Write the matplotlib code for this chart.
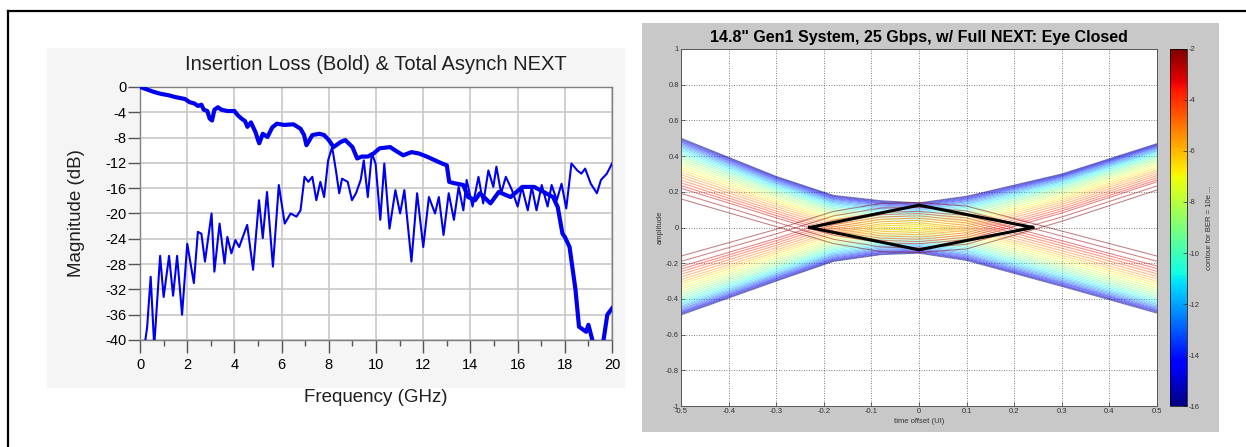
import numpy as np
import matplotlib
matplotlib.use("Agg")
import matplotlib.pyplot as plt
from matplotlib.patches import Rectangle
from matplotlib.lines import Line2D

plt.rcParams['font.family'] = ['Liberation Sans', 'DejaVu Sans']
plt.rcParams['axes.unicode_minus'] = False

# ---- left chart data ----
il_freq = [0, 0.3, 0.6, 0.9, 1.2, 1.5, 1.9, 2.1, 2.3, 2.45, 2.6, 2.7, 2.85, 2.95, 3.05, 3.15, 3.3, 3.45,
           3.7, 4.0, 4.15, 4.3, 4.45, 4.55, 4.7, 4.9, 5.0, 5.05, 5.2, 5.4, 5.6, 5.8, 6.1, 6.5, 6.8,
           6.95, 7.05, 7.15, 7.3, 7.6, 7.8, 8.0, 8.2, 8.5, 8.7, 9.0, 9.2, 9.4, 9.65, 9.9, 10.15,
           10.6, 10.8, 11.15, 11.5, 11.8, 12.15, 12.5, 12.8, 13.0, 13.1, 13.3, 13.7, 13.9, 14.2,
           14.4, 14.85, 15.2, 15.7, 16.2, 16.7, 17.2, 17.5, 17.7, 17.9, 18.0, 18.2, 18.45, 18.6,
           18.9, 19.0, 19.2, 19.3, 19.6, 19.8, 20.0]
il_db = [0, -0.4, -0.8, -1.1, -1.3, -1.6, -1.9, -2.4, -2.6, -3.0, -2.8, -3.6, -3.8, -5.0, -5.3,
         -3.6, -3.2, -3.6, -3.8, -3.8, -4.5, -5.0, -5.4, -6.3, -5.6, -7.2, -8.4, -8.9, -7.4, -7.9,
         -6.4, -5.8, -6.0, -5.9, -6.6, -7.6, -9.2, -8.6, -7.6, -7.4, -7.6, -8.4, -9.5, -8.7, -8.4,
         -9.5, -11.3, -11.0, -11.0, -10.5, -9.7, -9.5, -10.0, -10.8, -10.3, -10.5, -11.0, -11.6,
         -12.1, -12.4, -15.0, -15.2, -15.5, -17.4, -17.9, -16.8, -18.4, -16.6, -17.4, -15.8, -15.8,
         -16.8, -17.4, -19.0, -23.2, -23.7, -25.3, -32.0, -37.9, -38.7, -37.6, -40.5, -42.0, -41.0,
         -36.0, -35.0]

next_freq = [0.15, 0.3, 0.45, 0.6, 0.85, 1.0, 1.23, 1.4, 1.57, 1.78, 2.0, 2.28, 2.45, 2.6, 2.75,
             3.03, 3.15, 3.37, 3.58, 3.7, 3.87, 4.04, 4.2, 4.54, 4.79, 5.04, 5.2, 5.38, 5.63, 5.88,
             6.13, 6.38, 6.63, 6.8, 6.97, 7.13, 7.3, 7.47, 7.64, 7.8, 7.97, 8.14, 8.3, 8.44, 8.56,
             8.8, 8.98, 9.15, 9.35, 9.48, 9.65, 9.82, 9.98, 10.18, 10.35, 10.57, 10.82, 11.02, 11.2,
             11.5, 11.74, 12.0, 12.24, 12.5, 12.66, 12.86, 13.08, 13.3, 13.5, 13.7, 13.84, 14.09,
             14.34, 14.54, 14.76, 14.97, 15.1, 15.3, 15.5, 15.76, 16.0, 16.18, 16.43, 16.6, 16.8,
             17.02, 17.27, 17.44, 17.66, 17.86, 18.06, 18.28, 18.53, 18.7, 18.86, 19.1, 19.36,
             19.53, 19.78, 20.0]
next_db = [-42, -38, -30, -41, -26.7, -33.2, -26.7, -33.0, -26.7, -36.0, -24.8, -31.0, -22.9, -23.2,
           -27.6, -20.0, -29.2, -21.6, -27.9, -23.7, -26.3, -24.2, -25.3, -21.8, -28.9, -17.9, -23.9,
           -16.6, -28.4, -15.5, -21.6, -20.0, -20.5, -19.5, -14.2, -15.0, -14.2, -17.9, -15.0, -17.4,
           -11.6, -9.5, -13.2, -16.8, -14.5, -15.0, -17.9, -16.8, -14.7, -11.6, -17.4, -10.5, -12.1,
           -21.0, -12.1, -22.4, -16.3, -20.0, -16.3, -27.6, -16.8, -25.3, -17.4, -20.0, -17.4, -23.4,
           -16.8, -21.0, -15.8, -19.5, -14.7, -18.9, -14.2, -18.4, -13.2, -15.8, -12.6, -16.8, -14.2,
           -16.3, -18.9, -15.8, -19.5, -15.8, -19.5, -15.5, -18.9, -15.5, -17.9, -15.3, -19.2, -12.1,
           -13.2, -13.7, -12.9, -15.3, -16.8, -14.7, -13.7, -12.1]

# ---- right chart data: BER contour levels (log10), upper / lower boundary per level ----
eye_x = [-0.5, -0.3, -0.18, -0.08, 0.0, 0.1, 0.3, 0.5]
ber_levels = [-16, -15.5, -15, -14.5, -14, -13.5, -13, -12.5, -12, -11.5, -11, -10.5, -10, -9.5,
              -9, -8.5, -8, -7.5, -7, -6.5, -6, -5.5, -5, -4.5, -4, -3.5, -3, -2.5, -2]
eye_upper = [
    [0.500, 0.286, 0.180, 0.150, 0.138, 0.175, 0.300, 0.470],
    [0.495, 0.282, 0.176, 0.146, 0.134, 0.171, 0.296, 0.466],
    [0.490, 0.278, 0.172, 0.141, 0.130, 0.166, 0.292, 0.462],
    [0.484, 0.273, 0.167, 0.137, 0.125, 0.161, 0.288, 0.458],
    [0.478, 0.268, 0.162, 0.132, 0.120, 0.156, 0.283, 0.453],
    [0.471, 0.262, 0.157, 0.126, 0.114, 0.150, 0.278, 0.448],
    [0.464, 0.256, 0.151, 0.120, 0.109, 0.144, 0.272, 0.442],
    [0.456, 0.250, 0.145, 0.113, 0.102, 0.137, 0.266, 0.436],
    [0.448, 0.243, 0.139, 0.106, 0.096, 0.130, 0.260, 0.430],
    [0.439, 0.236, 0.132, 0.099, 0.088, 0.122, 0.253, 0.424],
    [0.430, 0.228, 0.124, 0.091, 0.081, 0.114, 0.245, 0.416],
    [0.420, 0.220, 0.117, 0.083, 0.073, 0.106, 0.238, 0.409],
    [0.410, 0.212, 0.108, 0.075, 0.064, 0.097, 0.230, 0.401],
    [0.399, 0.203, 0.100, 0.065, 0.055, 0.087, 0.221, 0.393],
    [0.388, 0.193, 0.091, 0.056, 0.046, 0.078, 0.213, 0.384],
    [0.376, 0.183, 0.081, 0.046, 0.037, 0.067, 0.203, 0.375],
    [0.364, 0.174, 0.072, 0.036, 0.027, 0.057, 0.194, 0.366],
    [0.350, 0.162, 0.061, 0.025, 0.016, 0.045, 0.183, 0.356],
    [0.337, 0.151, 0.050, 0.013, 0.005, 0.033, 0.173, 0.345],
    [0.323, 0.140, 0.040, 0.002, -0.007, 0.022, 0.162, 0.335],
    [0.310, 0.129, 0.029, -0.010, -0.018, 0.010, 0.152, 0.324],
    [0.296, 0.117, 0.018, -0.021, -0.029, -0.002, 0.141, 0.314],
    [0.281, 0.105, 0.006, -0.034, -0.041, -0.015, 0.129, 0.302],
    [0.265, 0.092, -0.006, -0.047, -0.054, -0.029, 0.117, 0.291],
    [0.250, 0.080, -0.019, -0.060, -0.066, -0.042, 0.105, 0.279],
    [0.235, 0.067, -0.031, -0.072, -0.079, -0.055, 0.093, 0.267],
    [0.220, 0.054, -0.043, -0.085, -0.091, -0.068, 0.081, 0.256],
    [0.191, 0.030, -0.066, -0.109, -0.115, -0.094, 0.059, 0.233],
    [0.160, 0.005, -0.090, -0.135, -0.140, -0.120, 0.035, 0.210],
]
eye_lower = [
    [-0.490, -0.300, -0.190, -0.152, -0.144, -0.185, -0.330, -0.480],
    [-0.485, -0.296, -0.186, -0.148, -0.140, -0.180, -0.325, -0.475],
    [-0.480, -0.291, -0.182, -0.143, -0.135, -0.176, -0.321, -0.470],
    [-0.475, -0.286, -0.177, -0.139, -0.131, -0.171, -0.315, -0.465],
    [-0.469, -0.281, -0.172, -0.133, -0.126, -0.165, -0.310, -0.459],
    [-0.462, -0.275, -0.166, -0.128, -0.120, -0.159, -0.304, -0.453],
    [-0.455, -0.269, -0.160, -0.122, -0.114, -0.153, -0.297, -0.446],
    [-0.447, -0.263, -0.154, -0.115, -0.107, -0.146, -0.290, -0.439],
    [-0.440, -0.256, -0.147, -0.108, -0.101, -0.138, -0.283, -0.431],
    [-0.431, -0.248, -0.140, -0.101, -0.093, -0.130, -0.275, -0.423],
    [-0.422, -0.240, -0.132, -0.093, -0.086, -0.122, -0.266, -0.414],
    [-0.412, -0.232, -0.124, -0.085, -0.077, -0.113, -0.257, -0.405],
    [-0.403, -0.223, -0.116, -0.076, -0.069, -0.104, -0.248, -0.395],
    [-0.392, -0.214, -0.107, -0.067, -0.060, -0.094, -0.238, -0.385],
    [-0.381, -0.204, -0.098, -0.057, -0.050, -0.084, -0.228, -0.374],
    [-0.370, -0.194, -0.088, -0.047, -0.040, -0.074, -0.217, -0.363],
    [-0.358, -0.184, -0.078, -0.037, -0.030, -0.063, -0.206, -0.352],
    [-0.345, -0.172, -0.067, -0.026, -0.019, -0.051, -0.194, -0.339],
    [-0.332, -0.161, -0.056, -0.014, -0.008, -0.039, -0.181, -0.326],
    [-0.318, -0.149, -0.044, -0.003, 0.004, -0.026, -0.169, -0.314],
    [-0.305, -0.138, -0.033, 0.009, 0.015, -0.014, -0.156, -0.301],
    [-0.292, -0.126, -0.022, 0.020, 0.026, -0.002, -0.144, -0.288],
    [-0.277, -0.113, -0.009, 0.033, 0.039, 0.012, -0.130, -0.274],
    [-0.262, -0.100, 0.003, 0.046, 0.052, 0.026, -0.116, -0.259],
    [-0.247, -0.087, 0.016, 0.059, 0.065, 0.039, -0.102, -0.245],
    [-0.233, -0.074, 0.028, 0.072, 0.078, 0.053, -0.088, -0.230],
    [-0.218, -0.061, 0.041, 0.085, 0.090, 0.067, -0.074, -0.216],
    [-0.190, -0.036, 0.065, 0.109, 0.114, 0.093, -0.048, -0.189],
    [-0.160, -0.010, 0.090, 0.135, 0.140, 0.120, -0.020, -0.160],
]
mask_x = [-0.23, 0.0, 0.24, 0.0, -0.23]
mask_y = [0.0, 0.125, 0.0, -0.125, 0.0]

fig = plt.figure(figsize=(12.46, 4.47), dpi=100)

# backgrounds and page frame
fig.patches.append(Rectangle((0.0377, 0.132), 0.464, 0.761, transform=fig.transFigure,
                             facecolor='#f5f5f5', edgecolor='none', zorder=-2))
fig.patches.append(Rectangle((0.5152, 0.0336), 0.4631, 0.915, transform=fig.transFigure,
                             facecolor='#c8c8c8', edgecolor='none', zorder=-2))
fig.lines.append(Line2D([0.0064, 1.0], [0.9754, 0.9754], transform=fig.transFigure, color='black', lw=1.6))
fig.lines.append(Line2D([0.0064, 0.0064], [0.0, 0.9754], transform=fig.transFigure, color='black', lw=1.6))

# ---- left: insertion loss and NEXT ----
ax = fig.add_axes([0.1124, 0.2394, 0.3788, 0.566])
ax.plot(next_freq, next_db, color='#0000f0', lw=1.5, zorder=3, solid_joinstyle='round')
ax.plot(il_freq, il_db, color='#0000f0', lw=3.0, zorder=4, solid_joinstyle='round')
ax.set_xlim(0, 20)
ax.set_ylim(-40, 0)
ax.set_xticks(np.arange(0, 21, 2))
ax.set_xticks(np.arange(1, 20, 2), minor=True)
ax.set_yticks(np.arange(-40, 1, 4))
ax.grid(True, color='#c8c8c8', lw=1.2)
for s in ax.spines.values():
    s.set_color('#808080')
    s.set_linewidth(1.0)
ax.tick_params(axis='both', which='major', length=9, width=1.0, color='#555555', labelsize=10.5, pad=1)
ax.tick_params(axis='x', which='minor', length=4, width=1.0, color='#555555')
ax.tick_params(axis='x', which='major', pad=4)
ax.set_title('Insertion Loss (Bold) & Total Asynch NEXT', fontsize=14.5, pad=12, color='#202020')
ax.set_xlabel('Frequency (GHz)', fontsize=13.5, labelpad=12, color='#202020')
ax.set_ylabel('Magnitude (dB)', fontsize=13.5, labelpad=14, color='#202020')

# ---- right: statistical eye contours ----
ax2 = fig.add_axes([0.5466, 0.0917, 0.3820, 0.7987])
cmap = plt.get_cmap('jet')
norm = plt.Normalize(-16, -2)
for lev, up, lo in zip(ber_levels, eye_upper, eye_lower):
    c = cmap(norm(lev))
    ax2.plot(eye_x, up, color=c, lw=0.75, alpha=0.5)
    ax2.plot(eye_x, lo, color=c, lw=0.75, alpha=0.5)
ax2.plot(mask_x, mask_y, color='black', lw=2.2, zorder=5)
ax2.set_xlim(-0.5, 0.5)
ax2.set_ylim(-1, 1)
ax2.set_xticks(np.round(np.arange(-0.5, 0.51, 0.1), 1))
ax2.set_yticks(np.round(np.arange(-1, 1.01, 0.2), 1))
ax2.set_xticklabels(['-0.5', '-0.4', '-0.3', '-0.2', '-0.1', '0', '0.1', '0.2', '0.3', '0.4', '0.5'])
ax2.set_yticklabels(['-1', '-0.8', '-0.6', '-0.4', '-0.2', '0', '0.2', '0.4', '0.6', '0.8', '1'])
ax2.grid(True, color='#555555', ls=(0, (1, 2)), lw=0.6)
ax2.tick_params(labelsize=5.5, length=3, width=0.5, colors='#333333', pad=1.5, direction='in')
for s in ax2.spines.values():
    s.set_color('#555555')
    s.set_linewidth(0.7)
ax2.set_title('14.8" Gen1 System, 25 Gbps, w/ Full NEXT: Eye Closed', fontsize=11.5,
              fontweight='bold', pad=5)
ax2.set_xlabel('time offset (UI)', fontsize=5.5, labelpad=2, color='#333333')
ax2.set_ylabel('amplitude', fontsize=5.5, labelpad=2, color='#333333')

cax = fig.add_axes([0.939, 0.0917, 0.0136, 0.7987])
sm = plt.cm.ScalarMappable(norm=norm, cmap=cmap)
cb = fig.colorbar(sm, cax=cax)
cb.set_ticks(np.arange(-16, -1, 2))
cb.ax.tick_params(labelsize=5.5, length=3, width=0.5, colors='#333333', pad=1.5, direction='in')
cb.outline.set_linewidth(0.5)
cb.set_label('contour for BER = 10e ...', fontsize=5.5, color='#333333', labelpad=4)

fig.savefig('out.png', dpi=100)
